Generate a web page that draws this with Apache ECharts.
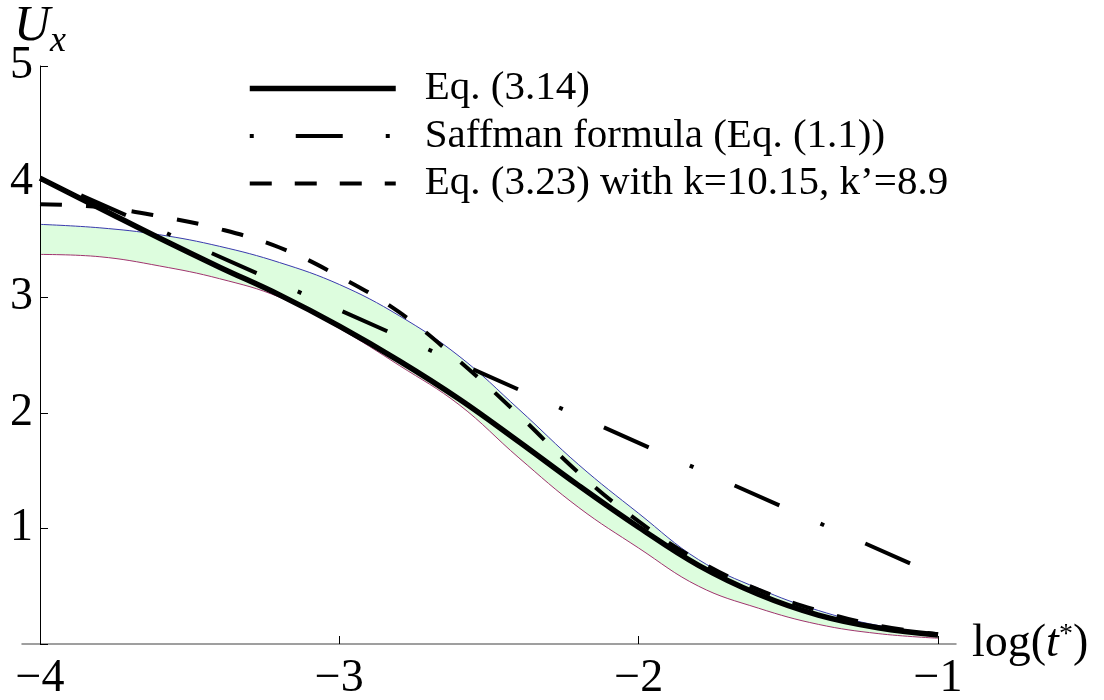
<!DOCTYPE html>
<html>
<head>
<meta charset="utf-8">
<script src="https://cdn.jsdelivr.net/npm/echarts@6/dist/echarts.min.js"></script>
<style>
  html, body { margin: 0; padding: 0; background: #fff; }
  #chart { width: 1104px; height: 700px; }
</style>
</head>
<body>
<div id="chart"></div>
<script>
// log(t*) sample positions shared by all curves
const logT = [-4, -3.8, -3.6, -3.4, -3.2, -3.0, -2.8, -2.6, -2.4, -2.2, -2.0, -1.8, -1.6, -1.4, -1.2, -1.0]
// Eq. (3.14), thick solid
const eq314 = [4.03, 3.77, 3.51, 3.26, 3.02, 2.75, 2.45, 2.12, 1.75, 1.37, 1.01, 0.68, 0.43, 0.25, 0.14, 0.077]
// Eq. (3.23) with k=10.15, k'=8.9, dashed
const eq323 = [3.805, 3.78, 3.70, 3.59, 3.43, 3.18, 2.87, 2.45, 1.98, 1.48, 1.06, 0.72, 0.47, 0.29, 0.16, 0.085]
// shaded band: upper (blue) and lower (purple) edges
const bandUpper = [3.63, 3.60, 3.54, 3.44, 3.30, 3.11, 2.84, 2.49, 2.03, 1.55, 1.13, 0.73, 0.48, 0.29, 0.16, 0.09]
const bandLower = [3.37, 3.35, 3.27, 3.16, 3.00, 2.73, 2.41, 2.07, 1.61, 1.18, 0.83, 0.50, 0.31, 0.17, 0.09, 0.05]
// Saffman formula, straight dash-dot line
const saffmanX = [-4, -1]
const saffmanY = [4.04, 0.59]

const xTicks = [-4, -3, -2, -1]

const names = ['Eq. (3.14)', 'Saffman formula (Eq. (1.1))', 'Eq. (3.23) with k=10.15, k’=8.9']
const FONT = 'Liberation Serif'

const pairs = (xs, ys) => xs.map((x, i) => [x, ys[i]])
const fmt = v => (v < 0 ? '−' + Math.abs(v) : String(v))

const chart = echarts.init(document.getElementById('chart'))

chart.setOption({
  backgroundColor: '#fff',
  animation: false,
  textStyle: { fontFamily: FONT, color: '#000' },
  grid: [
    { left: 40, top: 66, width: 898, height: 578, outerBoundsMode: 'none' },
    { left: 22, top: 66, width: 934, height: 578, outerBoundsMode: 'none' }
  ],
  legend: {
    orient: 'vertical',
    left: 247,
    top: 68,
    padding: 0,
    itemGap: 6.5,
    itemWidth: 146,
    itemHeight: 41,
    selectedMode: false,
    itemStyle: { color: 'rgba(0,0,0,0)', borderWidth: 0, opacity: 0 },
    lineStyle: { width: 'inherit' },
    textStyle: { fontFamily: FONT, fontSize: 41, lineHeight: 41, color: '#000', padding: [0, 0, 0, 24] },
    data: [
      { name: names[0], lineStyle: { width: 5.5, color: '#000' } },
      { name: names[1], lineStyle: { width: 4, color: '#000', type: [4, 42, 47, 43], dashOffset: 0 } },
      { name: names[2], lineStyle: { width: 4, color: '#000', type: [22, 23], dashOffset: 0 } }
    ]
  },
  xAxis: [
    {
      type: 'value', gridIndex: 0, min: -4, max: -1, interval: 1, z: 10,
      axisLine: { show: false },
      splitLine: { show: false },
      axisTick: { inside: true, length: 8, lineStyle: { color: '#000', width: 1 } },
      axisLabel: {
        formatter: fmt, fontFamily: FONT, fontSize: 46, color: '#000', margin: 12,
        showMinLabel: true, showMaxLabel: true,
        customValues: xTicks
      }
    },
    {
      type: 'value', gridIndex: 1, min: -4.06, max: -0.94, z: 10,
      axisLine: { show: true, onZero: false, lineStyle: { color: '#808080', width: 1.5 } },
      axisTick: { show: false },
      axisLabel: { show: false },
      splitLine: { show: false },
      name: '{n|log(}{i|t}{s|*}{n|)}',
      nameLocation: 'end',
      nameGap: 16,
      nameMoveOverlap: false,
      nameTextStyle: {
        rich: {
          n: { fontFamily: FONT, fontSize: 46, color: '#000' },
          i: { fontFamily: FONT, fontSize: 46, fontStyle: 'italic', color: '#000' },
          s: { fontFamily: FONT, fontSize: 28, color: '#000', verticalAlign: 'top' }
        }
      }
    }
  ],
  yAxis: [
    {
      type: 'value', gridIndex: 0, min: 0, max: 5, interval: 1, z: 10,
      axisLine: { show: true, onZero: false, lineStyle: { color: '#000', width: 1 } },
      axisTick: { inside: true, length: 8, lineStyle: { color: '#000', width: 1 } },
      splitLine: { show: false },
      axisLabel: {
        formatter: v => (v === 0 ? '' : fmt(v)),
        fontFamily: FONT, fontSize: 46, color: '#000', margin: 7
      },
      name: '{u|U}{x|x}',
      nameLocation: 'end',
      nameGap: 6,
      nameMoveOverlap: false,
      nameTextStyle: {
        rich: {
          u: { fontFamily: FONT, fontSize: 50, fontStyle: 'italic', color: '#000', verticalAlign: 'bottom', padding: [0, 0, 8, 0] },
          x: { fontFamily: FONT, fontSize: 36, fontStyle: 'italic', color: '#000', verticalAlign: 'bottom' }
        }
      }
    },
    { type: 'value', gridIndex: 1, min: 0, max: 5, show: false }
  ],
  series: [
    {
      // band: green fill under the upper edge ...
      name: 'band-upper', type: 'line', z: 1,
      data: pairs(logT, bandUpper),
      smooth: 0.4, symbol: 'none',
      lineStyle: { color: '#3a3aae', width: 1 },
      areaStyle: { color: '#ddfdde', opacity: 1 }
    },
    {
      // ... and white fill under the lower edge
      name: 'band-lower', type: 'line', z: 2,
      data: pairs(logT, bandLower),
      smooth: 0.4, symbol: 'none',
      lineStyle: { color: '#a0346e', width: 1 },
      areaStyle: { color: '#ffffff', opacity: 1 }
    },
    {
      name: names[1], type: 'line', z: 4,
      data: pairs(saffmanX, saffmanY),
      symbol: 'none',
      itemStyle: { color: '#000' },
      lineStyle: { color: '#000', width: 4, type: [49, 45, 4, 45], dashOffset: 98 }
    },
    {
      name: names[2], type: 'line', z: 4,
      data: pairs(logT, eq323),
      smooth: 0.4, symbol: 'none',
      itemStyle: { color: '#000' },
      lineStyle: { color: '#000', width: 4, type: [22, 24], dashOffset: 0 }
    },
    {
      name: names[0], type: 'line', z: 5,
      data: pairs(logT, eq314),
      smooth: 0.4, symbol: 'none',
      itemStyle: { color: '#000' },
      lineStyle: { color: '#000', width: 5.5 }
    }
  ]
})
</script>
</body>
</html>
